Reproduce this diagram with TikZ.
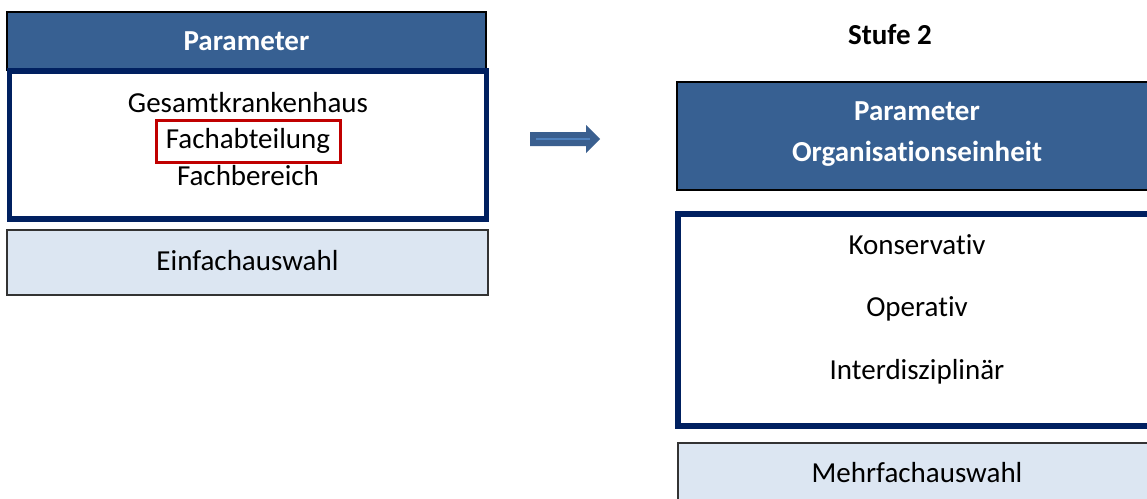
\documentclass[tikz,border=0pt]{standalone}
\usepackage{fontspec}
\setmainfont{Carlito}[Ligatures=NoCommon]
\definecolor{hdr}{RGB}{55,96,146}
\definecolor{navy}{RGB}{0,32,96}
\definecolor{light}{RGB}{220,230,242}
\definecolor{redb}{RGB}{192,0,0}
\definecolor{arrowfill}{RGB}{58,95,143}
\definecolor{arrowline}{RGB}{79,129,189}
\begin{document}
\begin{tikzpicture}[x=1pt,y=-1pt,
  every node/.style={inner sep=0pt,outer sep=0pt,font=\fontsize{29}{35}\selectfont,text height=19pt,text depth=0pt},
  header/.style={draw=black,line width=1.5pt,fill=hdr},
  htext/.style={text=white,font=\fontsize{29}{35}\selectfont\bfseries},
  listbox/.style={draw=navy,line width=5.5pt,fill=white},
  choice/.style={draw=black!80,line width=1.5pt,fill=light}]
\clip (0,0) rectangle (1147,498);
\fill[white] (0,0) rectangle (1147,498);
% left column
\node[header,minimum width=479,minimum height=58] (lh) at (246.5,41) {};
\node[htext] (lht) at (246.5,41) {Parameter};
\node[listbox,minimum width=477,minimum height=148] (lb) at (248,145) {};
\node (g) at (248,103) {Gesamtkrankenhaus};
\node[draw=redb,line width=3pt,minimum width=184,minimum height=42] (fa) at (248.5,141.5) {};
\node (fat) at (248,139) {Fachabteilung};
\node (fb) at (248,176) {Fachbereich};
\node[choice,minimum width=481,minimum height=65] (ea) at (247.5,262.5) {};
\node (eat) at (247.5,261) {Einfachauswahl};
% arrow
\fill[arrowfill] (530,132) -- (586,132) -- (586,125) -- (600,139) -- (586,153) -- (586,146) -- (530,146) -- cycle;
\draw[arrowline,line width=2.5pt] (536,139) -- (590,139);
% right column
\node[font=\fontsize{29}{35}\selectfont\bfseries] (st) at (890,35) {Stufe 2};
\node[header,minimum width=480,minimum height=108] (rh) at (917,136) {};
\node[htext] (rh1) at (917,111) {Parameter};
\node[htext] (rh2) at (917,152) {Organisationseinheit};
\node[listbox,minimum width=478,minimum height=212] (rb) at (917,320) {};
\node (k) at (917,245) {Konservativ};
\node (o) at (917,307) {Operativ};
\node (i) at (917,370) {Interdisziplinär};
\node[choice,minimum width=478,minimum height=65] (ma) at (917,475.5) {};
\node (mat) at (917,473) {Mehrfachauswahl};
\end{tikzpicture}
\end{document}
